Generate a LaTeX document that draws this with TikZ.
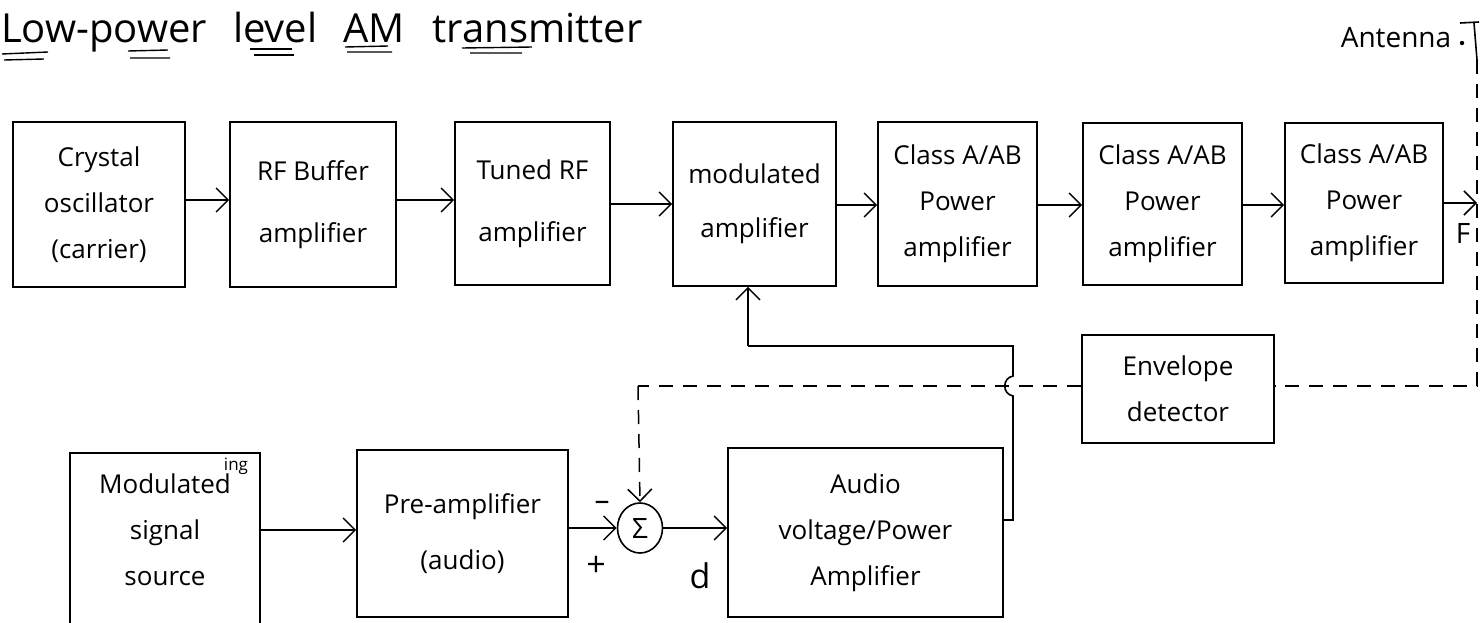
\documentclass[tikz,border=0pt]{standalone}
\usepackage{fontspec}
\setmainfont{Open Sans}
\usetikzlibrary{arrows.meta,shapes.geometric}
\newcommand\bfs{\fontsize{26}{46}\selectfont}
\newcommand\tfs{\fontsize{40}{48}\selectfont}
\begin{document}
\begin{tikzpicture}[x=1pt,y=-1pt,
  box/.style={draw,line width=1.6pt,inner sep=0pt,align=center,font=\bfs},
  lbl/.style={inner sep=0pt,align=center,font=\bfs},
  arr/.style={line width=1.5pt,-{Straight Barb[length=12pt,width=24pt,line width=1.5pt]}},
  ln/.style={line width=1.6pt},
  uline/.style={line width=1.4pt},
  dsh/.style={line width=1.5pt,dash pattern=on 14pt off 10pt}]
\useasboundingbox (0,0) rectangle (1480,622);
% title
\node[inner sep=0pt,anchor=base west,font=\tfs] (title) at (1,42)
  {Low-power\hspace{26pt}level\hspace{26pt}AM\hspace{28pt}transmitter};
\draw[uline] (2,54) -- (48,52) (4,60) -- (44,59);
\draw[uline] (128,51) -- (168,50) (130,58) -- (170,58);
\draw[uline] (250,49) -- (292,49) (254,55) -- (294,55);
\draw[uline] (345,47) -- (388,46) (347,52) -- (392,52);
\draw[uline] (462,48) -- (532,47) (470,53) -- (522,53);
% top row
\node[box,minimum width=172,minimum height=165] (b1) at (99,204.5)
  {Crystal\\oscillator\\(carrier)};
\node[box,minimum width=166,minimum height=165] (b2) at (313,204.5)
  {RF Buffer\\[16pt]amplifier};
\node[box,minimum width=155,minimum height=163] (b3) at (532.5,203.5)
  {Tuned RF\\[16pt]amplifier};
\node[box,minimum width=163,minimum height=164] (b4) at (754.5,204)
  {modulated\\[8pt]amplifier};
\node[box,minimum width=159,minimum height=164] (b5) at (957.5,204)
  {Class A/AB\\Power\\amplifier};
\node[box,minimum width=159,minimum height=162] (b6) at (1162.5,204)
  {Class A/AB\\Power\\amplifier};
\node[box,minimum width=158,minimum height=160] (b7) at (1364,203)
  {Class A/AB\\Power\\amplifier};
\draw[arr] (b1.east |- 0,200) -- (b2.west |- 0,200);
\draw[arr] (b2.east |- 0,200) -- (b3.west |- 0,200);
\draw[arr] (b3.east |- 0,204) -- (b4.west |- 0,204);
\draw[arr] (b4.east |- 0,205) -- (b5.west |- 0,205);
\draw[arr] (b5.east |- 0,205) -- (b6.west |- 0,205);
\draw[arr] (b6.east |- 0,205) -- (b7.west |- 0,205);
\coordinate (out) at (1477,203);
\draw[arr] (b7.east |- out) -- (out);
\node[lbl,font=\fontsize{28}{30}\selectfont] (flbl) at (1463,233) {F};
% antenna
\node[lbl,font=\fontsize{28}{30}\selectfont] (ant) at (1396,38) {Antenna};
\coordinate (antT) at (1474,23);
\coordinate (antB) at (1477,60);
\fill (1462,43) circle (2.2pt);
\draw[ln] (1460,23) -- (1479,22);
\draw[ln] (antT) -- (antB);
% envelope detector
\node[box,minimum width=192,minimum height=108] (env) at (1178,389)
  {Envelope\\detector};
\coordinate (dr) at (1477,386);
\coordinate (dl) at (638,386);
\draw[dsh] (antB) -- (dr) -- (env.east |- dr);
% bottom row
\node[box,minimum width=190,minimum height=190] (src) at (165,548) {};
\node[lbl] (srct) at (165,530) {Modulated\\signal\\source};
\node[inner sep=0pt,font=\fontsize{17}{18}\selectfont] (ing) at (236,466) {ing};
\node[box,minimum width=211,minimum height=167] (pre) at (462.5,533.5)
  {Pre-amplifier\\[10pt](audio)};
\node[draw,ellipse,line width=1.6pt,minimum width=45,minimum height=50,
  inner sep=0pt,font=\fontsize{28}{30}\selectfont] (sig) at (640,528) {Σ};
\node[box,minimum width=275,minimum height=169] (aud) at (865.5,532.5)
  {Audio\\voltage/Power\\Amplifier};
\draw[arr] (src.east |- 0,530) -- (pre.west |- 0,530);
\draw[arr] (pre.east |- sig.west) -- (sig.west);
\draw[arr] (sig.east) -- (sig.east -| aud.west);
\node[lbl,font=\fontsize{30}{30}\selectfont] (minus) at (602,506) {–};
\node[lbl,font=\fontsize{34}{34}\selectfont] (plus) at (596,566) {+};
\node[lbl,font=\fontsize{34}{34}\selectfont] (dlbl) at (700,576) {d};
% dashed feedback into summer
\draw[dsh] (env.west |- dl) -- (dl);
\draw[dsh,-{Straight Barb[length=12pt,width=24pt,line width=1.5pt]}] (dl) -- (sig.north);
% solid feedback to modulated amplifier with hop over dashed line
\coordinate (f1) at (1013,520);
\coordinate (f2) at (1013,346);
\coordinate (f3) at (748,346);
\draw[ln] (aud.east |- f1) -- (f1) -- (1013,396)
  .. controls (1002,394) and (1002,378) .. (1013,376) -- (f2) -- (f3);
\draw[arr] (f3) -- (b4.south -| f3);
\end{tikzpicture}
\end{document}
